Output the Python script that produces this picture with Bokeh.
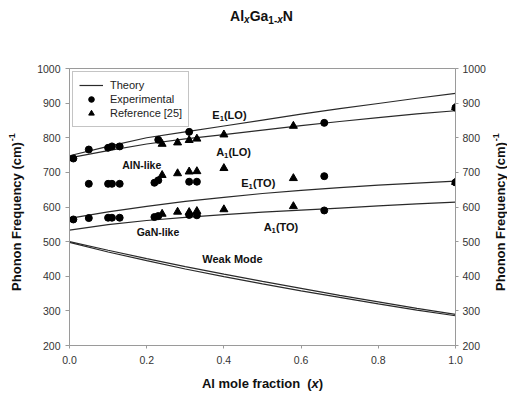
import math
from bokeh.plotting import figure
from bokeh.layouts import column, row
from bokeh.models import Range1d, LinearAxis, FixedTicker, Label, Legend, LegendItem, NumeralTickFormatter
from bokeh.core.properties import value
from bokeh.embed import file_html
from bokeh.resources import INLINE

# ---------------- data ----------------
x_ticks = [0.0, 0.2, 0.4, 0.6, 0.8, 1.0]
y_ticks = [200, 300, 400, 500, 600, 700, 800, 900, 1000]

x_theory = [0.0, 0.1, 0.2, 0.3, 0.4, 0.5, 0.6, 0.7, 0.8, 0.9, 1.0]
e1_lo = [748, 775, 800, 817, 834, 851, 868, 884, 899, 914, 928]
a1_lo = [742, 763, 782, 797, 809, 822, 835, 847, 858, 869, 878]
e1_to = [567, 586, 602, 616, 628, 639, 648, 656, 663, 669, 675]
a1_to = [533, 549, 561, 570, 578, 585, 591, 597, 603, 609, 614]
weak_1 = [500, 475, 451, 428, 406, 385, 365, 345, 326, 307, 290]
weak_2 = [498, 470, 445, 421, 399, 378, 358, 339, 320, 302, 286]

exp_lo_x = [0.01, 0.05, 0.10, 0.11, 0.13, 0.23, 0.31, 0.66, 1.0]
exp_lo_y = [740, 766, 771, 775, 775, 794, 817, 843, 887]
exp_aln_x = [0.05, 0.10, 0.11, 0.13, 0.22, 0.23, 0.31, 0.33, 0.66, 1.0]
exp_aln_y = [667, 667, 667, 667, 670, 677, 673, 673, 689, 671]
exp_gan_x = [0.01, 0.05, 0.10, 0.11, 0.13, 0.22, 0.23, 0.31, 0.33, 0.66]
exp_gan_y = [564, 568, 569, 569, 569, 571, 574, 577, 576, 590]

ref_lo_x = [0.24, 0.28, 0.31, 0.33, 0.40, 0.58, 1.0]
ref_lo_y = [782, 786, 793, 797, 809, 834, 888]
ref_aln_x = [0.24, 0.28, 0.31, 0.33, 0.40, 0.58, 1.0]
ref_aln_y = [692, 697, 702, 703, 712, 683, 672]
ref_gan_x = [0.24, 0.28, 0.31, 0.33, 0.40, 0.58]
ref_gan_y = [580, 586, 585, 588, 593, 602]

legend_labels = ["Theory", "Experimental", "Reference [25]"]

# ---------------- styling helpers ----------------
FONT = "Liberation Sans"
TXT = "#111111"
BW = {'A': .722, 'l': .278, 'G': .778, 'a': .556, 'N': .722, 'E': .667, '(': .333, 'L': .611,
      'O': .778, ')': .333, 'T': .611, '1': .556, '-': .333, 'x': .556, 'k': .556, 'i': .278,
      'e': .556, 'W': .944, 'M': .833, 'o': .611, 'd': .611, ' ': .278, 'c': .556, 'm': .889,
      'f': .333, 'r': .389, 't': .333, 'n': .611, 'P': .667, 'h': .611, 'F': .611, 'q': .611,
      'u': .611, 'y': .556}


def tw(s, size):
    return sum(BW.get(c, 0.556) for c in s) * size


def aux_fig(w, h):
    f = figure(width=w, height=h, x_range=Range1d(0, w), y_range=Range1d(0, h),
               x_axis_type=None, y_axis_type=None, output_backend="svg", toolbar_location=None,
               min_border=0, min_border_left=0, min_border_right=0, min_border_top=0,
               min_border_bottom=0, outline_line_color=None,
               background_fill_color="white", border_fill_color="white")
    f.xgrid.visible = False
    f.ygrid.visible = False
    return f


def pieces(f, x, y, parts, size, sub_size):
    """Horizontal rich text in an auxiliary figure; (x, y) = left end, vertical middle."""
    off = x
    for txt, kind, ital in parts:
        s = size if kind == "n" else sub_size
        yy = y if kind == "n" else y - 0.3 * size
        f.text(x=[off], y=[yy], text=[txt], text_font=value(FONT), text_font_size=value(f"{s}px"),
               text_font_style="bold italic" if ital else "bold", text_color=TXT,
               text_align="left", text_baseline="middle")
        off += tw(txt, s)


# ---------------- main plot ----------------
p = figure(width=460, height=316, x_range=Range1d(0, 1), y_range=Range1d(200, 1000),
           output_backend="svg", toolbar_location=None,
           min_border_left=39, min_border_right=35, min_border_top=14, min_border_bottom=25,
           background_fill_color="white", border_fill_color="white",
           outline_line_color="#9a9a9a", outline_line_width=1)
p.xgrid.visible = False
p.ygrid.visible = False

p.xaxis.ticker = FixedTicker(ticks=x_ticks)
p.xaxis.formatter = NumeralTickFormatter(format="0.0")
p.yaxis.ticker = FixedTicker(ticks=y_ticks)

raxis = LinearAxis(ticker=FixedTicker(ticks=y_ticks))
p.add_layout(raxis, "right")

for ax in [p.xaxis[0], p.yaxis[0], raxis]:
    ax.axis_line_color = "#9a9a9a"
    ax.major_tick_line_color = "#9a9a9a"
    ax.minor_tick_line_color = None
    ax.major_tick_in = 0
    ax.major_tick_out = 4
    ax.major_label_text_font = FONT
    ax.major_label_text_font_size = "10.5px"
    ax.major_label_text_color = "#333333"
p.yaxis[0].major_label_standoff = 5
raxis.major_tick_out = 3
raxis.major_label_standoff = 4
p.xaxis[0].major_tick_out = 3
p.xaxis[0].major_label_standoff = 7

LC = "#2a2a2a"
r_theory = p.line(x_theory, e1_lo, line_color=LC, line_width=1.2)
for ys in [a1_lo, e1_to, a1_to, weak_1, weak_2]:
    p.line(x_theory, ys, line_color=LC, line_width=1.2)

r_exp = p.scatter(exp_lo_x + exp_aln_x + exp_gan_x, exp_lo_y + exp_aln_y + exp_gan_y,
                  marker="circle", size=7, color="black")
r_ref = p.scatter(ref_lo_x + ref_aln_x + ref_gan_x, ref_lo_y + ref_aln_y + ref_gan_y,
                  marker="triangle", size=8, color="black")

legend = Legend(items=[LegendItem(label=legend_labels[0], renderers=[r_theory]),
                       LegendItem(label=legend_labels[1], renderers=[r_exp]),
                       LegendItem(label=legend_labels[2], renderers=[r_ref])],
                location="top_left", margin=3, padding=6, spacing=0,
                glyph_width=24, glyph_height=14, label_height=14, label_standoff=7,
                label_text_font=FONT, label_text_font_size="11px", label_text_color="#222222",
                border_line_color="#8a8a8a", border_line_width=1, background_fill_color="white",
                background_fill_alpha=1.0)
p.add_layout(legend)


def rich(x, y, parts, size, sub_size=None):
    if sub_size is None:
        sub_size = size * 0.7
    off = 0.0
    for txt, kind, ital in parts:
        s = size if kind == "n" else sub_size
        dy = 0 if kind == "n" else -0.3 * size
        p.add_layout(Label(x=x, y=y, text=txt, x_offset=off, y_offset=dy, text_font=FONT,
                           text_font_size=f"{s}px",
                           text_font_style="bold italic" if ital else "bold",
                           text_color=TXT, text_align="left", text_baseline="middle"))
        off += tw(txt, s)


rich(0.37, 866, [("E", "n", False), ("1", "sub", False), ("(LO)", "n", False)], 11)
rich(0.38, 759, [("A", "n", False), ("1", "sub", False), ("(LO)", "n", False)], 11)
rich(0.445, 670, [("E", "n", False), ("1", "sub", False), ("(TO)", "n", False)], 11)
rich(0.503, 542, [("A", "n", False), ("1", "sub", False), ("(TO)", "n", False)], 11)
rich(0.1365, 720, [("AlN-like", "n", False)], 10.5)
rich(0.174, 527, [("GaN-like", "n", False)], 10.5)
rich(0.344, 449, [("Weak Mode", "n", False)], 11)

# ---------------- title (top strip) ----------------
W_TOTAL = 507
TOP_H = 54
top = aux_fig(W_TOTAL, TOP_H)
title_parts = [("Al", "n", False), ("x", "sub", True), ("Ga", "n", False),
               ("1-", "sub", False), ("x", "sub", True), ("N", "n", False)]
tot = sum(tw(t, 14 if k == "n" else 10) for t, k, _ in title_parts)
pieces(top, 261 - tot / 2, TOP_H - 15, title_parts, 14, 10)

# ---------------- y labels (side strips) ----------------
ylab = "Phonon Frequency (cm)"
MAIN_H = 316
y_end = (TOP_H + MAIN_H) - 138


def ylabel_fig(w, cx):
    f = aux_fig(w, MAIN_H)
    f.text(x=[cx], y=[y_end], text=[ylab], angle=math.pi / 2, text_align="right",
           text_baseline="middle", text_font=value(FONT), text_font_size=value("13px"),
           text_font_style="bold", text_color=TXT)
    f.text(x=[cx - 5], y=[y_end + 1], text=["-1"], angle=math.pi / 2, text_align="left",
           text_baseline="middle", text_font=value(FONT), text_font_size=value("9px"),
           text_font_style="bold", text_color=TXT)
    return f


left = ylabel_fig(30, 16)
right = ylabel_fig(17, 10)

# ---------------- x label (bottom strip) ----------------
BOT_H = 22
bot = aux_fig(W_TOTAL, BOT_H)
w_main = tw("Al mole fraction", 13)
total_x = w_main + 7 + tw("(x)", 13)
x0 = 262 - total_x / 2
mid_y = TOP_H + MAIN_H + BOT_H - 383
pieces(bot, x0, mid_y, [("Al mole fraction", "n", False)], 13, 9)
pieces(bot, x0 + w_main + 7, mid_y, [("(", "n", False), ("x", "n", True), (")", "n", False)], 13, 9)

layout = column(top, row(left, p, right, spacing=0), bot, spacing=0)

open("out.html", "w").write(file_html(layout, INLINE))
